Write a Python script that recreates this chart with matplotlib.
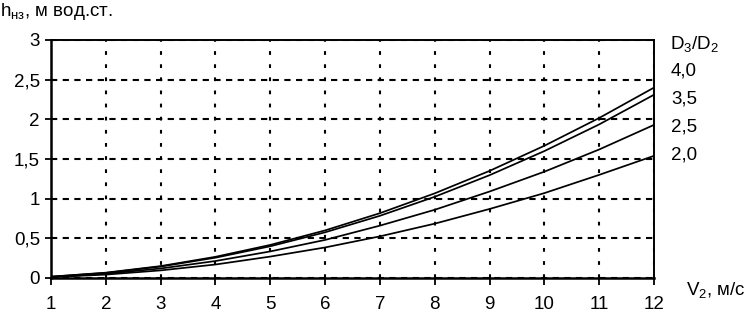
import matplotlib
matplotlib.use("Agg")
import matplotlib.pyplot as plt

plt.rcParams['font.family'] = ['Liberation Sans', 'DejaVu Sans']
plt.rcParams['mathtext.fontset'] = 'custom'
plt.rcParams['mathtext.rm'] = 'Liberation Sans'
plt.rcParams['mathtext.it'] = 'Liberation Sans'
plt.rcParams['mathtext.bf'] = 'Liberation Sans'

v = [1, 2, 3, 4, 5, 6, 7, 8, 9, 10, 11, 12]
h_40 = [0.017, 0.067, 0.15, 0.267, 0.417, 0.60, 0.817, 1.067, 1.35, 1.667, 2.017, 2.40]
h_35 = [0.016, 0.064, 0.144, 0.256, 0.40, 0.576, 0.784, 1.024, 1.296, 1.60, 1.936, 2.31]
h_25 = [0.013, 0.054, 0.12, 0.214, 0.335, 0.48, 0.66, 0.86, 1.09, 1.34, 1.62, 1.93]
h_20 = [0.011, 0.043, 0.096, 0.17, 0.27, 0.385, 0.525, 0.685, 0.87, 1.07, 1.30, 1.54]
series_labels = ["4,0", "3,5", "2,5", "2,0"]
y_ticks = [0, 0.5, 1, 1.5, 2, 2.5, 3]
y_tick_labels = ["0", "0,5", "1", "1,5", "2", "2,5", "3"]
x_ticks = v
x_tick_labels = [str(x) for x in v]

fig = plt.figure(figsize=(7.51, 3.26), dpi=100)
ax = fig.add_axes([51/751, 1-278/326, (654-51)/751, (278-40)/326])

for h in [h_40, h_35, h_25, h_20]:
    ax.plot(v, h, color='black', lw=1.25)

ax.set_xlim(1, 12)
ax.set_ylim(0, 3)
ax.set_xticks(x_ticks)
ax.set_xticklabels(x_tick_labels, fontsize=13.5)
ax.set_yticks(y_ticks)
ax.set_yticklabels(y_tick_labels, fontsize=13.5)
ax.xaxis.grid(True, color='black', lw=1.5, linestyle=(0, (1.8, 4.5)))
ax.yaxis.grid(True, color='black', lw=1.5, linestyle=(0, (3, 2.6)))
ax.set_axisbelow(True)
for s in ['left', 'bottom']:
    ax.spines[s].set_linewidth(1.8)
for s in ['top', 'right']:
    ax.spines[s].set_linewidth(1.4)
ax.tick_params(axis='y', direction='inout', length=8, width=1.3, pad=4, colors='black')
ax.tick_params(axis='x', direction='out', length=5, width=1.3, pad=8, colors='black')

fig.text(0.0, 1-12/326, r"$\mathregular{h_{нз}}$, м вод.ст.", fontsize=13.5, va='center', ha='left')
fig.text(686/751, 1-290/326, r"$\mathregular{V_2}$, м/с", fontsize=13.5, va='center', ha='left')
fig.text(670/751, 1-44/326, r"$\mathregular{D_3/D_2}$", fontsize=13.5, va='center', ha='left')
for lab, yp in zip(series_labels, [71, 99, 127, 155]):
    fig.text(671/751, 1-yp/326, lab, fontsize=13.5, va='center', ha='left')

fig.savefig("out.png", dpi=100)
